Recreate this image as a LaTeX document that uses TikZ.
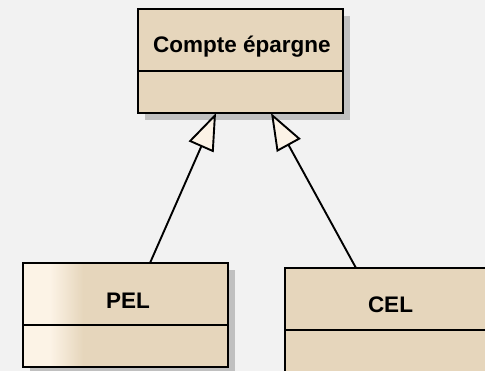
\documentclass[tikz,border=0pt]{standalone}
\usepackage{fontspec}
\setmainfont{Liberation Sans}
\usetikzlibrary{positioning}
\usetikzlibrary{shadows}
\usetikzlibrary{arrows.meta}
\definecolor{classtan}{HTML}{E6D6BC}
\definecolor{classlight}{HTML}{FCF3E6}
\definecolor{canvas}{HTML}{F2F2F2}
\definecolor{shadowgray}{HTML}{C0C0C0}
\tikzset{%
  classbox/.style={rectangle,draw=black,fill=classtan,line width=2pt,inner sep=0pt,outer sep=0pt,
    minimum width=205pt,minimum height=104pt,
    drop shadow={shadow xshift=7pt,shadow yshift=-7pt,fill=shadowgray,opacity=1}}
}
\tikzset{%
  classname/.style={anchor=base,inner sep=0pt,font=\fontsize{22.5}{27}\selectfont\bfseries}
}
\tikzset{%
  extends/.style={line width=1.9pt,-{Triangle[length=37pt,width=27pt,fill=classlight]}}
}
\newcommand\divider{62pt}

\begin{document}
\begin{tikzpicture}[x=1pt,y=-1pt]
            \fill[canvas] (0,0) rectangle (485,371);
            \useasboundingbox (0,0) rectangle (485,371);

            % superclass
            \node[classbox](comptebox) at (240.5,61){};
            \draw[line width=2pt] ([yshift=-\divider]comptebox.north west) -- ([yshift=-\divider]comptebox.north east);
            \node[classname](comptename) at (242,53){Compte épargne};

            % subclasses
            \node[classbox](pelbox) at (125.5,315){};
            \fill[classlight] ([xshift=1pt,yshift=-1pt]pelbox.north west) rectangle ([xshift=27pt,yshift=1pt]pelbox.south west);
            \shade[left color=classlight,right color=classtan] ([xshift=27pt,yshift=-1pt]pelbox.north west) rectangle ([xshift=60pt,yshift=1pt]pelbox.south west);
            \draw[line width=2pt] (pelbox.north west) rectangle (pelbox.south east);
            \draw[line width=2pt] ([yshift=-\divider]pelbox.north west) -- ([yshift=-\divider]pelbox.north east);
            \node[classname](pelname) at (128,309){PEL};

            \node[classbox](celbox) at (387.5,320){};
            \draw[line width=2pt] ([yshift=-\divider]celbox.north west) -- ([yshift=-\divider]celbox.north east);
            \node[classname](celname) at (390.5,313){CEL};

            % generalisations
            \draw[extends] ([xshift=24.5pt]pelbox.north) -- ([xshift=-24.5pt]comptebox.south);
            \draw[extends] ([xshift=-31.5pt]celbox.north) -- ([xshift=30.5pt]comptebox.south);
        \end{tikzpicture}
\end{document}
